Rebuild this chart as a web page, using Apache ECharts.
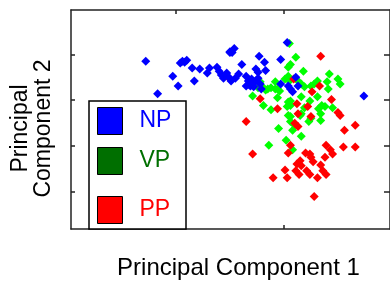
<!DOCTYPE html>
<html>
<head>
<meta charset="utf-8">
<script src="https://cdn.jsdelivr.net/npm/echarts@6/dist/echarts.min.js"></script>
<style>
  html, body { margin: 0; padding: 0; background: #fff; }
  #chart { width: 390px; height: 285px; }
</style>
</head>
<body>
<div id="chart"></div>
<script>
// 数据：主成分得分 (PC1, PC2)
const npPoints = [
  [-0.28, 0.85], [-0.17, 0.14], [-0.03, 0.52], [0.02, 0.31], [0.04, 0.81],
  [0.06, 0.85], [0.10, 0.87], [0.08, 0.83], [0.15, 0.70], [0.17, 0.42],
  [0.22, 0.68], [0.29, 0.59], [0.31, 0.70], [0.38, 0.72], [0.40, 0.63],
  [0.42, 0.55], [0.44, 0.48], [0.47, 0.59], [0.49, 0.50], [0.50, 1.06],
  [0.54, 1.13], [0.52, 1.04], [0.50, 1.04], [0.51, 0.42], [0.55, 0.48],
  [0.58, 0.57], [0.61, 0.78], [0.65, 0.52], [0.67, 0.42], [0.69, 0.31],
  [0.70, 0.46], [0.72, 0.40], [0.74, 0.42], [0.76, 0.48], [0.78, 0.35],
  [0.79, 0.24], [0.68, 0.33], [0.65, 0.31], [0.72, 0.29], [0.74, 0.68],
  [0.76, 0.61], [0.82, 0.83], [0.83, 0.65], [0.77, 0.96], [0.97, 0.89],
  [1.03, 1.26], [0.97, 0.35], [1.04, 0.31], [1.06, 0.24], [1.08, 0.18],
  [1.11, 0.50], [1.13, 0.31], [1.74, 0.09]
];
const vpPoints = [
  [1.05, 1.24], [1.11, 0.94], [1.06, 0.78], [1.04, 0.72], [1.18, 0.63],
  [1.42, 0.57], [1.50, 0.46], [1.52, 0.35], [1.31, 0.42], [1.40, 0.40],
  [1.41, 0.24], [1.25, 0.31], [1.19, 0.29], [1.13, 0.42], [1.04, 0.52],
  [1.05, 0.42], [0.92, 0.40], [0.88, 0.27], [0.94, 0.24], [0.80, 0.29],
  [0.83, 0.22], [0.71, 0.09], [0.81, -0.12], [0.88, -0.21], [0.94, 0.05],
  [1.04, -0.04], [1.06, -0.02], [1.16, 0.07], [1.24, -0.02], [1.31, 0.07],
  [1.32, -0.19], [1.35, -0.12], [1.34, -0.30], [1.45, -0.17], [1.03, -0.14],
  [1.06, -0.12], [1.19, -0.17], [1.16, -0.30], [1.06, -0.36], [1.04, -0.34],
  [1.06, -0.47], [1.10, -0.55], [1.23, -0.47], [1.34, -0.45], [0.95, -0.62],
  [1.08, -0.66], [1.16, -0.79], [1.02, -0.88], [0.86, -0.99], [1.08, -1.09],
  [0.76, 0.27], [0.78, 0.40], [1.01, 0.46], [1.16, 0.35], [1.28, 0.35],
  [0.85, 0.24], [0.92, 0.24], [0.96, 0.20], [1.38, -0.14], [1.15, -0.34],
  [1.25, -0.40]
];
const ppPoints = [
  [1.34, 0.96], [0.78, 0.03], [0.65, -0.47], [0.71, -1.18], [0.90, -1.70],
  [1.03, -1.70], [1.01, -1.53], [1.04, -1.16], [1.06, -0.99], [1.12, -0.08],
  [1.13, -0.58], [1.12, -1.40], [1.14, -1.63], [1.20, -1.16], [1.24, -1.18],
  [1.25, -1.25], [1.27, -1.35], [1.21, -1.55], [1.24, -1.63], [1.31, -1.70],
  [1.34, -1.42], [1.36, -1.55], [1.39, -1.63], [1.38, -1.25], [1.39, -0.99],
  [1.43, -1.09], [1.45, -1.18], [1.44, 0.01], [1.50, -0.27], [1.52, -0.34],
  [1.56, -0.66], [1.66, -0.55], [1.55, -1.03], [1.66, -1.03], [1.28, -2.11],
  [1.09, 0.46], [1.25, -0.36], [1.33, 0.31], [1.13, -0.30], [0.50, 0.46],
  [1.26, 0.18], [0.94, -0.19], [1.22, -0.14], [1.11, -1.55], [1.16, -1.44],
  [1.15, -1.33], [1.10, -0.51]
];
const xTicks = [0, 1];
const yTicks = [-2, -1, 0, 1];

const font = 'Liberation Sans, Arial, sans-serif';
const lineStyle = { color: '#222', width: 1.5 };

function axisX(pos) {
  return {
    type: 'value', position: pos, min: -0.972, max: 1.982,
    axisLine: { show: true, onZero: false, lineStyle },
    axisTick: { show: true, inside: true, length: 4, customValues: xTicks, lineStyle },
    axisLabel: { show: false },
    splitLine: { show: false }
  };
}
function axisY(pos, tickLen) {
  return {
    type: 'value', position: pos, min: -2.823, max: 1.972,
    axisLine: { show: true, onZero: false, lineStyle },
    axisTick: { show: true, inside: true, length: tickLen, customValues: yTicks, lineStyle },
    axisLabel: { show: false },
    splitLine: { show: false }
  };
}

function legendAt(top, name, color) {
  return {
    left: 97, top: top, orient: 'vertical', padding: 0,
    icon: 'rect', itemWidth: 25, itemHeight: 27,
    selectedMode: false,
    itemStyle: { borderColor: '#000', borderWidth: 1, opacity: 1 },
    textStyle: { fontSize: 23, fontFamily: font, color: color, padding: [0, 0, 0, 12] },
    data: [{ name: name, itemStyle: { color: color, opacity: 1 } }],
    z: 10
  };
}

let xBottom = axisX('bottom');
xBottom.name = 'Principal Component 1';
xBottom.nameLocation = 'middle';
xBottom.nameGap = 27;
xBottom.nameTextStyle = { fontSize: 24, fontFamily: font, color: '#000', padding: [0, 0, 0, 16] };
let xTop = axisX('top');

let yLeft = axisY('left', 4);
yLeft.name = 'Principal\nComponent 2';
yLeft.nameLocation = 'middle';
yLeft.nameGap = 16;
yLeft.nameTextStyle = { fontSize: 23, fontFamily: font, color: '#000', lineHeight: 23, padding: [0, 18, 0, 0] };
let yRight = axisY('right', 6);

let option = {
  animation: false,
  backgroundColor: '#fff',
  grid: { left: 71, top: 10, right: -3, bottom: 53 },
  xAxis: [xBottom, xTop],
  yAxis: [yLeft, yRight],
  legend: [
    legendAt(107, 'NP', '#0000ff'),
    legendAt(147, 'VP', '#006f00'),
    legendAt(196, 'PP', '#ff0000')
  ],
  graphic: [{
    type: 'rect', z: 5,
    shape: { x: 89, y: 101, width: 97, height: 128 },
    style: { fill: '#fff', stroke: '#000', lineWidth: 1.5 }
  }],
  series: [
    { name: 'VP', type: 'scatter', symbol: 'diamond', symbolSize: 9, data: vpPoints, itemStyle: { color: '#00ff00', opacity: 1 }, z: 2 },
    { name: 'PP', type: 'scatter', symbol: 'diamond', symbolSize: 9, data: ppPoints, itemStyle: { color: '#ff0000', opacity: 1 }, z: 3 },
    { name: 'NP', type: 'scatter', symbol: 'diamond', symbolSize: 9, data: npPoints, itemStyle: { color: '#0000ff', opacity: 1 }, z: 4 }
  ]
};
let myChart = echarts.init(document.getElementById('chart'));
myChart.setOption(option);
</script>
</body>
</html>
